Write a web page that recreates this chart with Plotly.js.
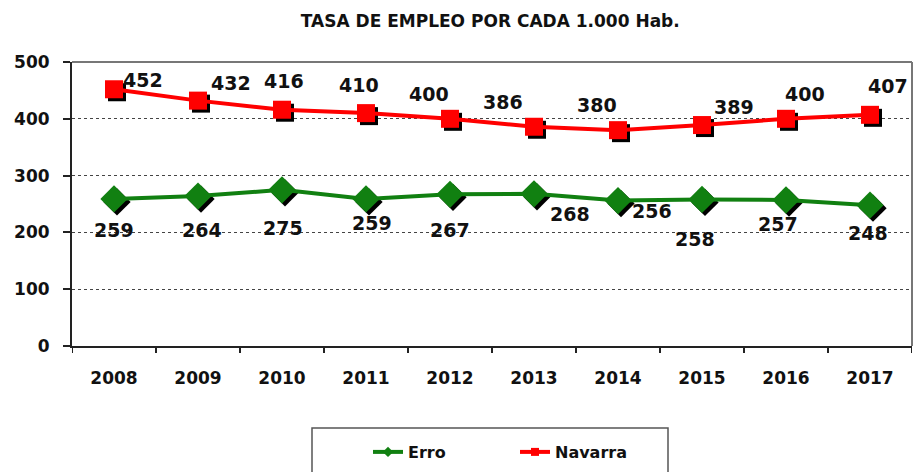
<!DOCTYPE html>
<html><head><meta charset="utf-8">
<script src="https://cdn.plot.ly/plotly-3.0.1.min.js"></script>
<style>html,body{margin:0;padding:0;background:#fff;}#chart{width:913px;height:472px;}</style>
</head><body><div id="chart"></div>
<script>
// ---- data ----
var years = ['2008','2009','2010','2011','2012','2013','2014','2015','2016','2017'];
var erro = [259,264,275,259,267,268,256,258,257,248];
var navarra = [452,432,416,410,400,386,380,389,400,407];
var titleText = 'TASA DE EMPLEO POR CADA 1.000 Hab.';
var seriesNames = ['Erro','Navarra'];

// ---- style / positions ----
var F = 'DejaVu Sans, Arial, sans-serif';
var green = '#118011', red = '#ff0000';
var navShift = [[29,9],[33,18],[2,29],[-7,28],[-21,25],[-31,25],[-21,25],[32,18],[19,25],[18,29]];
var erroShift = [[0,-31],[4,-34],[1,-38],[6,-24],[0,-36],[36,-20],[34,-10],[-7,-40],[-8,-24],[-2,-28]];
var idx = years.map(function(_, i){ return i; });
var pxPerUnitY = 284/500, pxPerCat = 840/years.length;
var sdx = 3/pxPerCat, sdy = 3/pxPerUnitY;

var traces = [
  // shadows
  {x: idx, y: navarra, xaxis:'x2', yaxis:'y2', mode:'markers', type:'scatter', showlegend:false, hoverinfo:'skip',
   marker:{symbol:'square', size:18, color:'#000'}},
  {x: idx, y: erro, xaxis:'x2', yaxis:'y2', mode:'markers', type:'scatter', showlegend:false, hoverinfo:'skip',
   marker:{symbol:'diamond', size:21, color:'#000'}},
  // main
  {x: idx, y: navarra, xaxis:'x3', yaxis:'y3', mode:'lines+markers', type:'scatter', showlegend:false, name:seriesNames[1],
   line:{color:red, width:4}, marker:{symbol:'square', size:18, color:red}},
  {x: idx, y: erro, xaxis:'x3', yaxis:'y3', mode:'lines+markers', type:'scatter', showlegend:false, name:seriesNames[0],
   line:{color:green, width:4}, marker:{symbol:'diamond', size:21, color:green}},
  // legend entries
  {x:[null], y:[null], mode:'lines+markers', type:'scatter', name:seriesNames[0],
   line:{color:green, width:4}, marker:{symbol:'diamond', size:8, color:green}},
  {x:[null], y:[null], mode:'lines+markers', type:'scatter', name:seriesNames[1],
   line:{color:red, width:4}, marker:{symbol:'square', size:8, color:red}}
];

var annotations = [];
years.forEach(function(yr, i){
  annotations.push({x:i, y:navarra[i], xref:'x3', yref:'y3', text:String(navarra[i]), showarrow:false,
    xshift:navShift[i][0], yshift:navShift[i][1], font:{family:F, size:19, color:'#111', weight:'bold'}});
  annotations.push({x:i, y:erro[i], xref:'x3', yref:'y3', text:String(erro[i]), showarrow:false,
    xshift:erroShift[i][0], yshift:erroShift[i][1], font:{family:F, size:19, color:'#111', weight:'bold'}});
});

var layout = {
  width:913, height:472,
  margin:{l:72, r:1, t:62, b:126},
  paper_bgcolor:'#fff', plot_bgcolor:'#fff',
  title:{text:'<b>'+titleText+'</b>', x:0.537, xanchor:'center', y:0.955, yanchor:'middle',
         font:{family:F, size:17, color:'#111'}},
  xaxis:{type:'linear', range:[-0.5, years.length-0.5], tickmode:'array',
         tickvals:idx, ticktext:years, ticks:'', showgrid:false, zeroline:false,
         showline:true, linecolor:'#222', linewidth:2, ticklabelstandoff:16,
         tickfont:{family:F, size:17, color:'#111', weight:'bold'}, fixedrange:true},
  yaxis:{range:[0,500], tickvals:[0,100,200,300,400,500], ticks:'outside', ticklen:7, tickwidth:2, tickcolor:'#222',
         showline:true, linecolor:'#222', linewidth:2, zeroline:false,
         showgrid:true, gridcolor:'#444', gridwidth:1, griddash:'dot',
         tickfont:{family:F, size:17, color:'#111', weight:'bold'}, ticklabelstandoff:10, fixedrange:true},
  xaxis2:{overlaying:'x', range:[-0.5-sdx, years.length-0.5-sdx], visible:false, fixedrange:true},
  yaxis2:{overlaying:'y', range:[sdy, 500+sdy], visible:false, fixedrange:true},
  xaxis3:{overlaying:'x', range:[-0.5, years.length-0.5], visible:false, fixedrange:true},
  yaxis3:{overlaying:'y', range:[0,500], visible:false, fixedrange:true},
  showlegend:true,
  legend:{orientation:'h', x:(368-72)/840, xanchor:'left', y:-(452-346)/284, yanchor:'middle',
          font:{family:F, size:16, color:'#111', weight:'bold'}, bgcolor:'rgba(0,0,0,0)', borderwidth:0,
          entrywidth:102, entrywidthmode:'pixels'},
  annotations:annotations,
  shapes:[
    // top & right plot border
    {type:'line', xref:'paper', yref:'paper', x0:0, x1:1, y0:1, y1:1, line:{color:'#777', width:2}},
    {type:'line', xref:'paper', yref:'paper', x0:1, x1:1, y0:0, y1:1, line:{color:'#777', width:2}},
    // legend box
    {type:'rect', xref:'paper', yref:'paper', x0:(312-72)/840, x1:(668-72)/840, y0:-(480-346)/284, y1:-(428-346)/284,
     line:{color:'#555', width:1.5}, fillcolor:'rgba(0,0,0,0)'}
  ]
};
// category-boundary ticks on the x axis
for (var k=0; k<=years.length; k++){
  layout.shapes.push({type:'line', xref:'x', yref:'paper', x0:k-0.5, x1:k-0.5, y0:0, y1:-7/284, line:{color:'#222', width:2}});
}

Plotly.newPlot('chart', traces, layout, {displayModeBar:false, staticPlot:true});
</script></body></html>
